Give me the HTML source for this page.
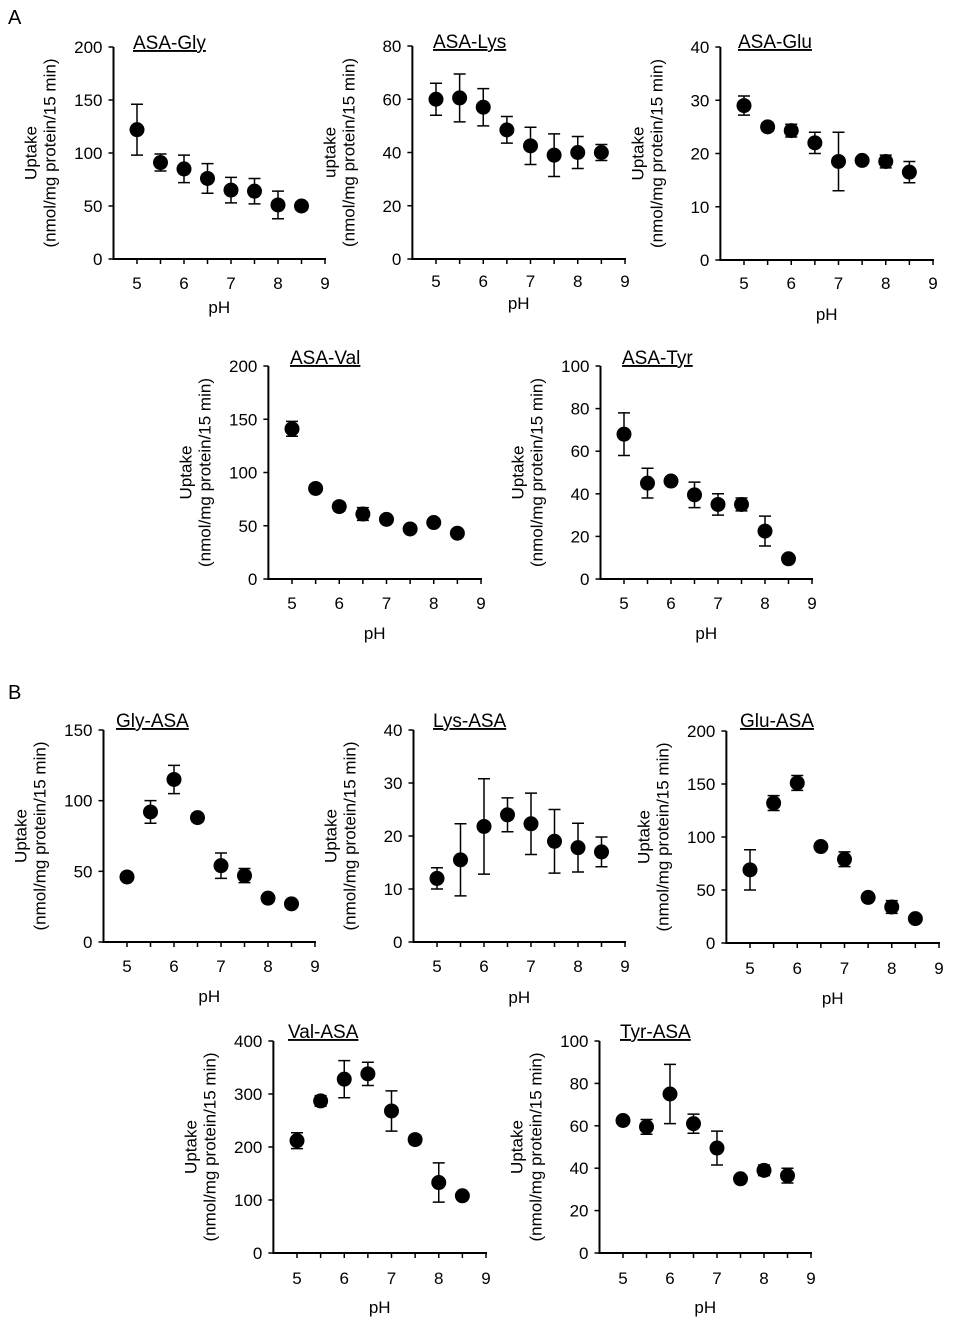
<!DOCTYPE html>
<html><head><meta charset="utf-8">
<style>
html,body{margin:0;padding:0;background:#fff;}
svg{display:block;font-family:"Liberation Sans",Arial,sans-serif;}
</style></head>
<body>
<svg id="fig" width="958" height="1330" viewBox="0 0 958 1330">
<text x="8" y="24" font-size="20">A</text>
<text x="8" y="699" font-size="20">B</text>
</svg>
<script>
const phValues = [5,5.5,6,6.5,7,7.5,8,8.5];
const xTicks = [5,6,7,8,9];
const titles = ["ASA-Gly","ASA-Lys","ASA-Glu","ASA-Val","ASA-Tyr","Gly-ASA","Lys-ASA","Glu-ASA","Val-ASA","Tyr-ASA"];
const yMaxes = [200,80,40,200,100,150,40,200,400,100];
const ySteps = [50,20,10,50,20,50,10,50,100,20];
const meanGly = [122,91,85,76,65,64,51,50];
const errGly = [24,8,13,14,12,12,13,4];
const meanLys = [60,60.5,57,48.5,42.5,39,40,40];
const errLys = [6,9,7,5,7,8,6,3];
const meanGlu = [29,25,24.3,22,18.5,18.7,18.5,16.5];
const errGlu = [1.8,0.8,1.2,2,5.5,0.5,1.2,2];
const meanVal = [141,85,68,61,56,47,53,43];
const errVal = [7,2,4,6,2,2,2,2];
const meanTyr = [68,45,46,39.5,35,35,22.5,9.5];
const errTyr = [10,7,2,6,5,3,7,1];
const meanGlyB = [46,92,115,88,54,47,31,27];
const errGlyB = [2,8,10,3,9,5,2,2];
const meanLysB = [12,15.5,21.8,24,22.3,19,17.8,17];
const errLysB = [2,6.8,9,3.2,5.8,6,4.6,2.8];
const meanGluB = [69,132,151,91,79,43,34,23];
const errGluB = [19,7,7,3,7,3,6,2];
const meanValB = [212,287,328,338,268,214,133,108];
const errValB = [15,10,35,22,38,8,37,5];
const meanTyrB = [62.5,59.5,75,61,49.5,35,39,36.5];
const errTyrB = [1.5,3.5,14,4.5,8,1,2.5,3.5];
const allMeans = [meanGly,meanLys,meanGlu,meanVal,meanTyr,meanGlyB,meanLysB,meanGluB,meanValB,meanTyrB];
const allErrs = [errGly,errLys,errGlu,errVal,errTyr,errGlyB,errLysB,errGluB,errValB,errTyrB];

const layout = [
 [137,325,47,259,289,313,133,49],
 [436,625,46,259,287,309,433,48],
 [744,933,47,260,289,320,738,48],
 [292,481,366,579,609,639,290,364],
 [624,812,366,579,609,639,622,364],
 [127,315,730,942,972,1002,116,727],
 [437,625,730,942,972,1003,433,727],
 [750,939,731,943,974,1004,740,727],
 [297,486,1041,1253,1284,1313,288,1038],
 [623,811,1041,1253,1284,1313,620,1038]
];
const NS="http://www.w3.org/2000/svg";
const svg=document.getElementById('fig');
function mk(tag,attrs,parent){const e=document.createElementNS(NS,tag);for(const k in attrs)e.setAttribute(k,attrs[k]);(parent||svg).appendChild(e);return e;}

titles.forEach((t,i)=>{
  const [x5,x9,yT,yB,tly,phy,tx,ty]=layout[i];
  const g=mk('g',{});
  
  
  const xs=v=>x5+(v-5)*(x9-x5)/4;
  const ys=v=>yB-v*(yB-yT)/yMaxes[i];
  const ax=xs(4.5);
  const yAx=mk('line',{x1:ax,y1:yT,x2:ax,y2:yB,stroke:'#000','stroke-width':2},g);
  
  
  const xAx=mk('line',{x1:ax-1,y1:yB,x2:x9+1,y2:yB,stroke:'#000','stroke-width':2},g);
  
  
  for(let v=0;v<=yMaxes[i];v+=ySteps[i]){
    mk('line',{x1:ax-5,y1:ys(v),x2:ax,y2:ys(v),stroke:'#000','stroke-width':1.5},g);
    const tl=mk('text',{x:ax-11,y:ys(v)+6,'font-size':17,'text-anchor':'end'},g);
    tl.textContent=v;
    
    
  }
  for(let v=5;v<=9;v+=0.5){
    mk('line',{x1:xs(v),y1:yB,x2:xs(v),y2:yB+5,stroke:'#000','stroke-width':1.5},g);
  }
  xTicks.forEach(v=>{
    const tl=mk('text',{x:xs(v),y:tly,'font-size':17,'text-anchor':'middle'},g);
    tl.textContent=v;
    
    
  });
  const ph=mk('text',{x:xs(6.75),y:phy,'font-size':17,'text-anchor':'middle'},g);
  ph.textContent='pH';
  
  
  const ti=mk('text',{x:tx,y:ty,'font-size':19,'text-decoration':'underline'},g);
  ti.textContent=t;
  
  
  const cy=(yT+yB)/2;
  const l1=mk('text',{x:0,y:0,'font-size':17,'text-anchor':'middle',transform:`translate(${ax-77},${cy}) rotate(-90)`},g);
  l1.textContent = i===1 ? 'uptake' : 'Uptake';
  
  
  const l2=mk('text',{x:0,y:0,'font-size':17,'text-anchor':'middle',transform:`translate(${ax-58},${cy}) rotate(-90)`},g);
  l2.textContent='(nmol/mg protein/15 min)';
  
  
  phValues.forEach((p,j)=>{
    const m=allMeans[i][j], e=allErrs[i][j], x=xs(p);
    const eb=mk('path',{d:`M${x},${ys(m+e)}V${ys(m-e)}M${x-6},${ys(m+e)}H${x+6}M${x-6},${ys(m-e)}H${x+6}`,stroke:'#000','stroke-width':1.5,fill:'none'},g);
    
    
    const c=mk('circle',{cx:x,cy:ys(m),r:7.5,fill:'#000'},g);
    
    
  });
});
</script>
</body></html>
